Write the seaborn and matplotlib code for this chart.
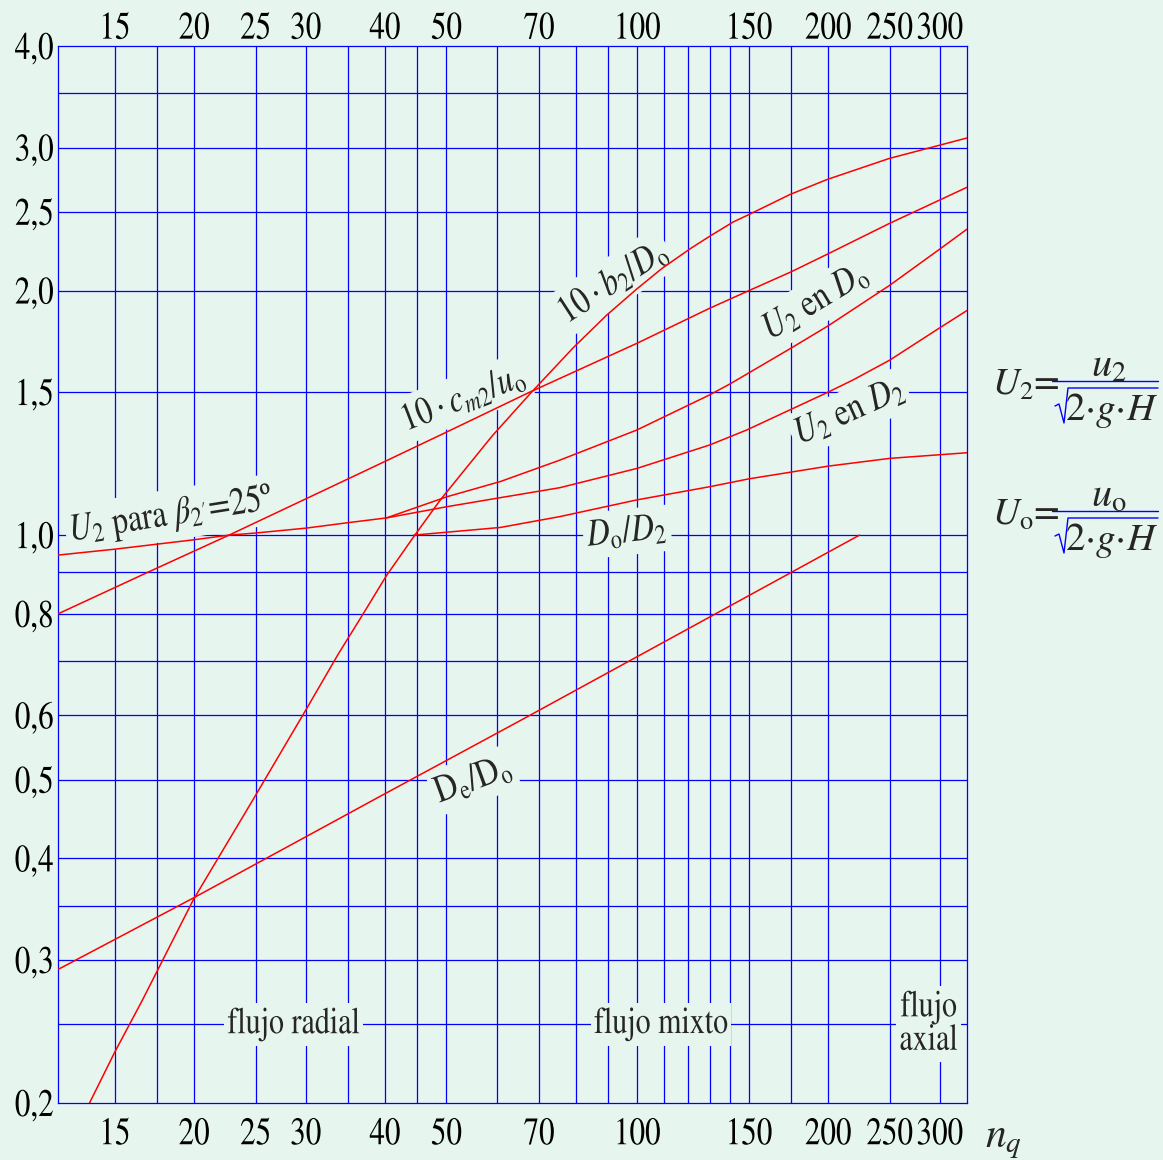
import numpy as np
import matplotlib
matplotlib.use("Agg")
import matplotlib.pyplot as plt
import seaborn as sns
from matplotlib.patheffects import AbstractPathEffect
from matplotlib.transforms import Affine2D
from matplotlib.lines import Line2D
from matplotlib.ticker import NullLocator, NullFormatter

# ---------------- data: impeller design ratios vs. specific speed n_q ----------------
nq_b2 = [13.68, 15, 16.58, 19.95, 24.81, 30.07, 33.76, 36.84, 40.19, 44.37, 48.9, 59,
         67.8, 79.3, 89.5, 99.8, 109.4, 121.6, 130.3, 141.6, 150, 174.1, 199.2, 249.5, 331]
b2_D0 = [0.2, 0.2312, 0.2678, 0.356, 0.4735, 0.611, 0.714, 0.797, 0.891, 0.995, 1.105,
         1.324, 1.494, 1.702, 1.866, 2.009, 2.13, 2.256, 2.335, 2.429, 2.481, 2.626, 2.74,
         2.908, 3.082]

nq_cm2 = [12.2, 16.9, 22.7, 37.9, 50.1, 67.7, 99.8, 130, 150, 175, 200, 250, 331]
cm2_u0 = [0.8, 0.9, 1.0, 1.208, 1.34, 1.5, 1.722, 1.902, 2.0, 2.11, 2.22, 2.42, 2.68]

nq_beta = [12.2, 15, 20, 22.7, 25, 30, 35, 40.2]
U2_beta = [0.945, 0.961, 0.987, 1.0, 1.006, 1.02, 1.036, 1.05]

nq_U2D0 = [40.2, 50.1, 60.8, 75.5, 99.8, 130, 140, 175, 200, 250, 300, 331]
U2_D0 = [1.05, 1.115, 1.164, 1.237, 1.347, 1.488, 1.535, 1.70, 1.81, 2.03, 2.25, 2.38]

nq_U2D2 = [40.2, 50.1, 60.8, 75.5, 99.8, 130, 148.7, 200, 218.7, 250, 300, 331]
U2_D2 = [1.05, 1.084, 1.112, 1.144, 1.208, 1.291, 1.347, 1.50, 1.552, 1.642, 1.80, 1.89]

nq_D0D2 = [44.4, 60.8, 75.5, 99.8, 130, 150, 200, 250, 331]
D0_D2 = [1.0, 1.022, 1.054, 1.105, 1.147, 1.173, 1.216, 1.243, 1.263]

nq_De = [12.2, 20, 39.4, 66.1, 224]
De_D0 = [0.292, 0.358, 0.4775, 0.594, 1.0]

x_ticks = [15, 20, 25, 30, 40, 50, 70, 100, 150, 200, 250, 300]
x_ticklabels = ["15", "20", "25", "30", "40", "50", "70", "100", "150", "200", "250", "300"]
y_ticks = [0.2, 0.3, 0.4, 0.5, 0.6, 0.8, 1.0, 1.5, 2.0, 2.5, 3.0, 4.0]
y_ticklabels = ["0,2", "0,3", "0,4", "0,5", "0,6", "0,8", "1,0", "1,5", "2,0", "2,5", "3,0", "4,0"]

nq_grid = [15, 17.5, 20, 25, 30, 35, 40, 45, 50, 60, 70, 80, 90, 100, 110, 120, 130, 140,
           150, 175, 200, 250, 300]
ratio_grid = [0.25, 0.3, 0.35, 0.4, 0.5, 0.6, 0.7, 0.8, 0.9, 1.0, 1.5, 2.0, 2.5, 3.0, 3.5]

# ---------------- style ----------------
BG = "#e7f5ef"
GRID = "#0000ff"
RED = "#ff0000"
W, H = 1163, 1160

sns.set_theme(style="white")
plt.rcParams["font.family"] = ["STIXGeneral", "Liberation Serif", "DejaVu Serif"]
plt.rcParams["mathtext.fontset"] = "stix"


class Tall(AbstractPathEffect):
    """Stretch glyphs perpendicular to the baseline around the text anchor,
    giving a condensed (narrow, tall) face."""

    def __init__(self, text, sy=1.25):
        super().__init__()
        self.text = text
        self.sy = sy

    def draw_path(self, renderer, gc, tpath, affine, rgbFace=None):
        x0, y0 = self.text.get_transform().transform(self.text.get_unitless_position())
        ang = np.deg2rad(self.text.get_rotation())
        stretch = (Affine2D().translate(-x0, -y0).rotate(-ang)
                   .scale(1.0, self.sy).rotate(ang).translate(x0, y0))
        renderer.draw_path(gc, tpath, affine + stretch, rgbFace)


def narrow(text, sx=0.8):
    """Shrink the font to sx and stretch it back vertically."""
    text.set_fontsize(text.get_fontsize() * sx)
    text.set_path_effects([Tall(text, 1.0 / sx)])
    patch = text.get_bbox_patch()
    if patch is not None:
        patch.set_path_effects([Tall(text, 1.0 / sx)])
    return text


fig = plt.figure(figsize=(W / 100, H / 100), dpi=100, facecolor=BG)
ax = fig.add_axes([58 / W, 1 - 1103 / H, (967.3 - 58) / W, (1103 - 46) / H])
ax.set_facecolor(BG)
ax.set_xscale("log")
ax.set_yscale("log")

# grid
for v in nq_grid:
    ax.axvline(v, color=GRID, lw=0.9, zorder=1)
for h in ratio_grid:
    ax.axhline(h, color=GRID, lw=0.9, zorder=1)
for s in ax.spines.values():
    s.set_color(GRID)
    s.set_linewidth(0.9)

# curves
curves = [
    (nq_b2, b2_D0),
    (nq_cm2, cm2_u0),
    (nq_beta, U2_beta),
    (nq_U2D0, U2_D0),
    (nq_U2D2, U2_D2),
    (nq_D0D2, D0_D2),
    (nq_De, De_D0),
]
for xs, ys in curves:
    sns.lineplot(x=xs, y=ys, ax=ax, color=RED, lw=1.1, estimator=None, sort=False,
                 legend=False, zorder=5)

ax.set_xscale("log")
ax.set_yscale("log")
ax.set_xlim(12.2, 331.4)
ax.set_ylim(0.2, 4.0)
ax.set_xlabel("")
ax.set_ylabel("")

TICK_FS = 28
ax.set_xticks(x_ticks, labels=x_ticklabels, fontsize=TICK_FS)
ax.set_yticks(y_ticks, labels=y_ticklabels, fontsize=TICK_FS)
for axis in (ax.xaxis, ax.yaxis):
    axis.set_minor_locator(NullLocator())
    axis.set_minor_formatter(NullFormatter())
ax.tick_params(axis="x", length=0, pad=11, colors="black")
ax.tick_params(axis="y", length=0, pad=3, colors="black")

sec = ax.secondary_xaxis("top")
sec.set_xticks(x_ticks, labels=x_ticklabels, fontsize=TICK_FS)
sec.xaxis.set_minor_locator(NullLocator())
sec.xaxis.set_minor_formatter(NullFormatter())
sec.tick_params(axis="x", length=0, pad=-1, colors="black")
sec.spines["top"].set_visible(False)

for lab in ax.get_xticklabels() + ax.get_yticklabels() + sec.get_xticklabels():
    narrow(lab, 0.8)

# curve captions
LAB_FS = 28
box = dict(boxstyle="square,pad=0.12", fc=BG, ec="none")
captions = [
    (r"$10\cdot b_2/D_{\mathrm{o}}$", 91.5, 2.05, 33),
    (r"$10\cdot c_{m2}/u_{\mathrm{o}}$", 53.1, 1.475, 21),
    (r"$U_2$ para $\beta_{2'}$=25º", 18.4, 1.059, 9),
    (r"$U_2$ en $D_{\mathrm{o}}$", 191, 1.936, 31),
    (r"$U_2$ en $D_2$", 216, 1.417, 24),
    (r"$D_{\mathrm{o}}/D_2$", 96.3, 1.009, 6),
    (r"$\mathrm{D}_{\mathrm{e}}/\mathrm{D}_{\mathrm{o}}$", 55.1, 0.4996, 20),
]
for txt, xc, yc, rot in captions:
    t = ax.text(xc, yc, txt, fontsize=LAB_FS, rotation=rot, ha="center", va="center",
                rotation_mode="anchor", bbox=box, zorder=4)
    narrow(t, 0.82)

for txt, xc in [("flujo radial", 28.7), ("flujo mixto", 109), ("flujo\naxial", 288)]:
    t = ax.text(xc, 0.25, txt, fontsize=27, ha="center", va="center", linespacing=0.95,
                bbox=dict(boxstyle="square,pad=0.1", fc=BG, ec="none"), zorder=4)
    narrow(t, 0.8)

# axis caption n_q
fig.text(985 / W, 1 - 1147 / H, r"$n_q$", fontsize=30, ha="left", va="baseline")


# definitions of the dimensionless peripheral speeds
def px(x, y):
    return x / W, 1 - y / H


def formula(lhs, num, base):
    fig.text(*px(992, base), lhs, fontsize=27, ha="left", va="baseline")
    fig.text(*px(1109, base - 18), num, fontsize=29, ha="center", va="baseline")
    bar_y = base - 14
    fig.add_artist(Line2D([1052 / W, 1158 / W], [1 - bar_y / H] * 2, color=GRID, lw=1.0,
                          transform=fig.transFigure))
    top = base - 7
    bot = base + 28
    xs = [1055, 1059, 1064, 1068, 1158]
    ys = [bot - 17, bot - 19, bot, top, top]
    fig.add_artist(Line2D([v / W for v in xs], [1 - v / H for v in ys], color=GRID,
                          lw=1.0, transform=fig.transFigure))
    fig.text(*px(1112, bot - 3), r"$2{\cdot}g{\cdot}H$", fontsize=28, ha="center",
             va="baseline")


formula(r"$U_2$=", r"$u_2$", 395)
formula(r"$U_{\mathrm{o}}$=", r"$u_{\mathrm{o}}$", 525)

fig.savefig("out.png", dpi=100, facecolor=BG)
